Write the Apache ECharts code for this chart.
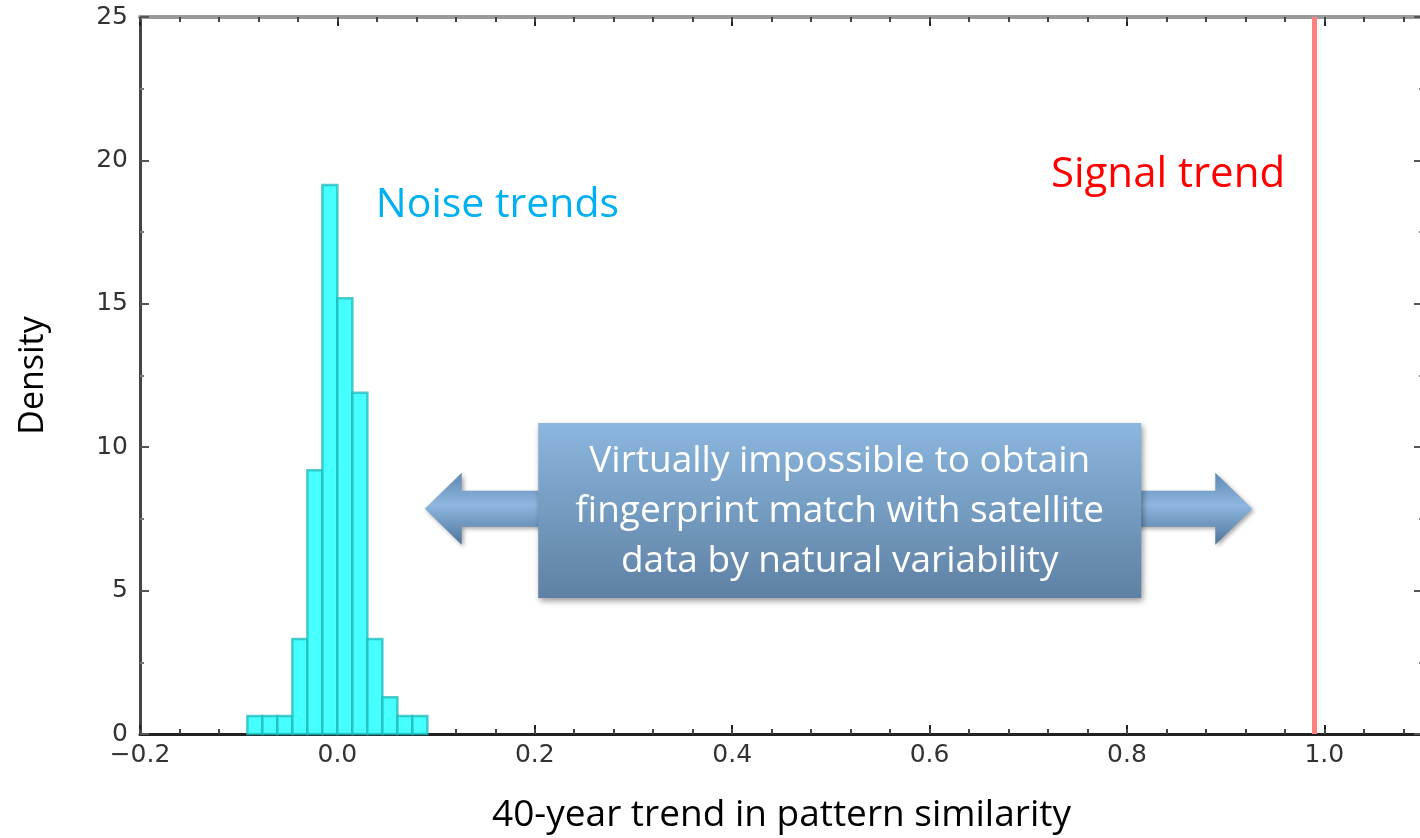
<!DOCTYPE html>
<html>
<head>
<meta charset="utf-8">
<script src="https://cdn.jsdelivr.net/npm/echarts@6/dist/echarts.min.js"></script>
<style>
html,body{margin:0;padding:0;background:#fff;}
#chart{width:1420px;height:838px;}
</style>
</head>
<body>
<div id="chart"></div>
<script>
// ---- data ----
const binEdges = [-0.0912, -0.0760, -0.0608, -0.0456, -0.0304, -0.0152, 0.0, 0.0152, 0.0304, 0.0456, 0.0608, 0.0760, 0.0912];
const densities = [0.63, 0.63, 0.63, 3.31, 9.2, 19.14, 15.19, 11.9, 3.31, 1.28, 0.63, 0.63];
const signalTrend = 0.987;
const xRange = [-0.2, 1.1];
const yRange = [0, 25];
const xTickStep = 0.2;
const xMinorStep = 0.04;
const yTickStep = 5;

const noiseLabel = 'Noise trends';
const signalLabel = 'Signal trend';
const boxLines = ['Virtually impossible to obtain', 'fingerprint match with satellite', 'data by natural variability'];
const xTitle = '40-year trend in pattern similarity';
const yTitle = 'Density';

// annotation anchors in data coordinates
const noiseAnchor = [0.039, 18.45];
const signalAnchor = [0.723, 19.5];
const boxCorners = [[0.2035, 10.84], [0.8145, 4.74]];
const arrowTips = [[0.0885, 7.85], [0.927, 7.85]];

const histData = densities.map((d, i) => [binEdges[i], binEdges[i + 1], d]);

const chart = echarts.init(document.getElementById('chart'));
const FONT = 'Open Sans';
const fmtX = v => {
  const r = Math.round(v * 10) / 10;
  return (r < 0 ? '\u2212' : '') + Math.abs(r).toFixed(1);
};
const hidden = {show: false};

const option = {
  animation: false,
  grid: {left: 140, top: 17, width: 1283, bottom: 104, containLabel: false, outerBoundsMode: 'none'},
  xAxis: [
    { // bottom main
      type: 'value', min: xRange[0], max: xRange[1], interval: xTickStep, position: 'bottom',
      axisLine: {show: true, onZero: false, lineStyle: {color: '#222', width: 3}},
      axisTick: {show: true, inside: true, length: 9, lineStyle: {color: '#222', width: 2}},
      axisLabel: {show: true, showMaxLabel: false, formatter: fmtX, fontFamily: 'DejaVu Sans', fontSize: 25, color: '#333', margin: 9},
      splitLine: hidden,
      name: xTitle, nameLocation: 'middle', nameGap: 63,
      nameTextStyle: {fontFamily: FONT, fontSize: 37, color: '#000'}
    },
    { // bottom minor ticks
      type: 'value', min: xRange[0], max: xRange[1], interval: xMinorStep, position: 'bottom',
      axisLine: {show: false, onZero: false}, axisLabel: hidden, splitLine: hidden,
      axisTick: {show: true, inside: true, length: 5, lineStyle: {color: '#444', width: 2}}
    },
    { // top main
      type: 'value', min: xRange[0], max: xRange[1], interval: xTickStep, position: 'top',
      axisLine: {show: true, onZero: false, lineStyle: {color: '#999', width: 4}},
      axisTick: {show: true, inside: true, length: 9, lineStyle: {color: '#222', width: 2}},
      axisLabel: hidden, splitLine: hidden
    },
    { // top minor ticks
      type: 'value', min: xRange[0], max: xRange[1], interval: xMinorStep, position: 'top',
      axisLine: {show: false, onZero: false}, axisLabel: hidden, splitLine: hidden,
      axisTick: {show: true, inside: true, length: 5, lineStyle: {color: '#444', width: 2}}
    }
  ],
  yAxis: [
    {
      type: 'value', min: yRange[0], max: yRange[1], interval: yTickStep, position: 'left',
      axisLine: {show: true, onZero: false, lineStyle: {color: '#444', width: 3}},
      axisTick: {show: true, inside: true, length: 9, lineStyle: {color: '#555', width: 2}},
      minorTick: {show: true, splitNumber: 2, length: 4, lineStyle: {color: '#777', width: 2}},
      axisLabel: {show: true, fontFamily: 'DejaVu Sans', fontSize: 25, color: '#333', margin: 12},
      splitLine: hidden, minorSplitLine: hidden,
      name: yTitle, nameLocation: 'middle', nameGap: 90, nameRotate: 90,
      nameTextStyle: {fontFamily: FONT, fontSize: 34, color: '#000'}
    },
    {
      type: 'value', min: yRange[0], max: yRange[1], interval: yTickStep, position: 'right',
      axisLine: {show: true, onZero: false, lineStyle: {color: '#444', width: 3}},
      axisTick: {show: true, inside: true, length: 9, lineStyle: {color: '#555', width: 2}},
      minorTick: {show: true, splitNumber: 2, length: 4, lineStyle: {color: '#777', width: 2}},
      axisLabel: hidden, splitLine: hidden
    }
  ],
  series: [
    {
      type: 'custom',
      xAxisIndex: 0, yAxisIndex: 0,
      data: histData,
      encode: {x: [0, 1], y: 2},
      renderItem: function (params, api) {
        const p0 = api.coord([api.value(0), api.value(2)]);
        const p1 = api.coord([api.value(1), 0]);
        return {
          type: 'rect',
          shape: {x: p0[0], y: p0[1], width: p1[0] - p0[0], height: p1[1] - p0[1]},
          style: {fill: '#46ffff', stroke: 'rgba(30,185,185,0.75)', lineWidth: 2.5}
        };
      },
      markLine: {
        silent: true, symbol: 'none', label: {show: false},
        lineStyle: {color: '#ff8080', width: 5, type: 'solid'},
        data: [{xAxis: signalTrend}]
      },
      z: 3
    }
  ]
};
chart.setOption(option);

function px(p) { return chart.convertToPixel({gridIndex: 0}, p); }

function drawAnnotations() {
  const n = px(noiseAnchor);
  const s = px(signalAnchor);
  const b0 = px(boxCorners[0]);
  const b1 = px(boxCorners[1]);
  const tl = px(arrowTips[0]);
  const tr = px(arrowTips[1]);
  const headLen = 37, headHalf = 36, shaftHalf = 18;
  const cy = tl[1];
  const arrowFill = new echarts.graphic.LinearGradient(0, 0, 0, 1, [
    {offset: 0, color: '#5f88b2'},
    {offset: 0.45, color: '#8db7df'},
    {offset: 1, color: '#4e7399'}
  ]);
  const leftArrow = [
    [tl[0], cy], [tl[0] + headLen, cy - headHalf], [tl[0] + headLen, cy - shaftHalf],
    [b0[0] + 10, cy - shaftHalf], [b0[0] + 10, cy + shaftHalf], [tl[0] + headLen, cy + shaftHalf],
    [tl[0] + headLen, cy + headHalf]
  ];
  const rightArrow = [
    [tr[0], cy], [tr[0] - headLen, cy - headHalf], [tr[0] - headLen, cy - shaftHalf],
    [b1[0] - 10, cy - shaftHalf], [b1[0] - 10, cy + shaftHalf], [tr[0] - headLen, cy + shaftHalf],
    [tr[0] - headLen, cy + headHalf]
  ];
  const boxH = b1[1] - b0[1];
  const cx = (b0[0] + b1[0]) / 2;
  const lineGap = 50;
  const midY = (b0[1] + b1[1]) / 2 + 1;
  const elements = [
    {type: 'polygon', shape: {points: leftArrow}, style: {fill: arrowFill, shadowBlur: 4, shadowOffsetX: 2, shadowOffsetY: 2, shadowColor: 'rgba(0,0,0,0.35)'}, z: 10},
    {type: 'polygon', shape: {points: rightArrow}, style: {fill: arrowFill, shadowBlur: 4, shadowOffsetX: 2, shadowOffsetY: 2, shadowColor: 'rgba(0,0,0,0.35)'}, z: 10},
    {type: 'rect', shape: {x: b0[0], y: b0[1], width: b1[0] - b0[0], height: boxH},
      style: {fill: new echarts.graphic.LinearGradient(0, 0, 0, 1, [
        {offset: 0, color: '#8bb6de'}, {offset: 1, color: '#5e81a3'}]),
        shadowBlur: 6, shadowOffsetX: 2, shadowOffsetY: 3, shadowColor: 'rgba(0,0,0,0.4)'}, z: 11}
  ];
  boxLines.forEach((t, i) => {
    elements.push({type: 'text', x: cx, y: midY + (i - 1) * lineGap, z: 12,
      style: {text: t, fill: '#fff', font: '37px "Open Sans"', align: 'center', verticalAlign: 'middle'}});
  });
  elements.push({type: 'text', x: n[0], y: n[1], z: 12,
    style: {text: noiseLabel, fill: '#00b0f0', font: '41px "Open Sans"', align: 'left', verticalAlign: 'middle'}});
  elements.push({type: 'text', x: s[0], y: s[1], z: 12,
    style: {text: signalLabel, fill: '#ff0000', font: '42px "Open Sans"', align: 'left', verticalAlign: 'middle'}});
  chart.setOption({graphic: {elements: elements}});
}
drawAnnotations();
</script>
</body>
</html>
